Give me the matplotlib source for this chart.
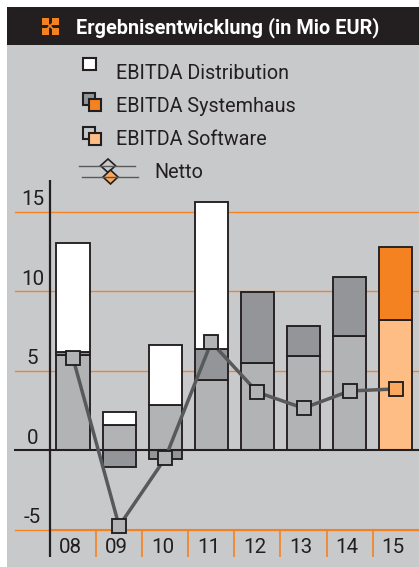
import matplotlib
matplotlib.use("Agg")
import matplotlib.pyplot as plt
from matplotlib.patches import Rectangle, Polygon

W, H = 419, 567
plt.rcParams["font.family"] = ["Roboto", "Liberation Sans", "DejaVu Sans"]

years = ["08", "09", "10", "11", "12", "13", "14", "15"]
software = [5.97, 1.57, 2.85, 4.4, 5.5, 5.95, 7.2, 8.2]
systemhaus = [0.2, -1.03, -0.55, 1.95, 4.47, 1.87, 3.68, 4.6]
distribution = [6.88, 0.83, 3.77, 9.28, 0, 0, 0, 0]
netto = [5.8, -4.76, -0.5, 6.8, 3.65, 2.65, 3.73, 3.86]
y_ticks = [15, 10, 5, 0, -5]
y_baselines = [205, 285, 364, 444, 523]

BG = "#c8c9cb"
DARK = "#231f20"
ORANGE = "#f58220"
LIGHT_ORANGE = "#fdbd85"
G1 = "#b2b3b5"
G2 = "#939598"
LINE = "#58595b"
MARK_O = "#fba85c"

fig = plt.figure(figsize=(W / 100, H / 100), dpi=100, facecolor="white")
bgax = fig.add_axes([0, 0, 1, 1])
bgax.set_xlim(0, W)
bgax.set_ylim(H, 0)
bgax.axis("off")
bgax.add_patch(Rectangle((7, 45), W - 7, H - 45, fc=BG, ec="none"))
bgax.add_patch(Rectangle((7, 7), W - 7, 38, fc=DARK, ec="none"))

# header icon
for (ix, iy) in [(42, 18), (52, 18), (42, 28), (52, 28)]:
    bgax.add_patch(Rectangle((ix, iy), 6.5, 6.5, fc=ORANGE, ec="none"))
bgax.plot([46, 54], [22, 30], color=ORANGE, lw=1.2)
bgax.plot([46, 54], [30, 22], color=ORANGE, lw=1.2)
bgax.text(76, 33, "Ergebnisentwicklung (in Mio EUR)", color="white", fontsize=14.35,
          fontweight="bold", va="baseline", ha="left")

# legend
def box(x, y, w, h, fc, lw=1.5):
    bgax.add_patch(Rectangle((x, y), w, h, fc=fc, ec=DARK, lw=lw))

box(83, 58, 12.5, 12, "white")
box(83, 93, 12, 12, G2)
box(89, 99, 12, 12, ORANGE)
box(83, 127, 12, 12, BG)
box(89, 133, 12, 12, LIGHT_ORANGE)
bgax.plot([79, 135], [166, 166], color=LINE, lw=1.0)
bgax.plot([82, 138], [176.7, 176.7], color=LINE, lw=1.0)
bgax.add_patch(Polygon([(108, 159), (115.5, 165.7), (108, 172.5), (100.5, 165.7)], fc=BG, ec=DARK, lw=1.2))
bgax.add_patch(Polygon([(110.5, 170), (118, 177), (110.5, 184), (103, 177)], fc=MARK_O, ec=DARK, lw=1.2))
for txt, x, y in [("EBITDA Distribution", 116, 79), ("EBITDA Systemhaus", 116, 111.7),
                  ("EBITDA Software", 116, 145), ("Netto", 154, 177.7)]:
    bgax.text(x, y, txt, color=DARK, fontsize=14.25, va="baseline", ha="left")

# chart axes, positioned to the pixel scale of the reference
L, R, T, B = 14, 419, 180, 557
ax = fig.add_axes([L / W, 1 - B / H, (R - L) / W, (B - T) / H])
ax.patch.set_alpha(0)
y0, ppu = 450.3, 15.9
x0, ppx = 73, 46.1
ax.set_xlim((L - x0) / ppx, (R - x0) / ppx)
ax.set_ylim((y0 - B) / ppu, (y0 - T) / ppu)
ax.axis("off")
px_x = lambda p: (p - x0) / ppx
px_y = lambda p: (y0 - p) / ppu

for v in [15, 10, 5, -5]:
    ax.axhline(v, xmin=1 / (R - L), color=ORANGE, lw=0.95, zorder=1)
ax.plot([px_x(50), px_x(R)], [-5, -5], color=ORANGE, lw=1.5, zorder=1)
ax.plot([px_x(50)] * 2, [px_y(180), px_y(557)], color=DARK, lw=1.6, zorder=2,
        solid_capstyle="butt")

bw = 0.72
for i in range(len(years)):
    sw, sy, d = software[i], systemhaus[i], distribution[i]
    hi = i == 7
    ax.bar(i, sw, bw, color=LIGHT_ORANGE if hi else G1, edgecolor=DARK, lw=1.35, zorder=3)
    base = sw if sy > 0 else 0
    ax.bar(i, sy, bw, bottom=base, color=ORANGE if hi else G2, edgecolor=DARK, lw=1.35, zorder=3)
    if d > 0:
        ax.bar(i, d, bw, bottom=sw + max(sy, 0), color="white", edgecolor=DARK, lw=1.35, zorder=3)

ax.axhline(0, color=DARK, lw=1.5, zorder=4)
ax.plot(range(8), netto, color=LINE, lw=2.5, zorder=5)
for i, v in enumerate(netto):
    ax.plot(i, v, marker="s", ms=9.6, mfc=MARK_O if i == 7 else G1, mec=DARK, mew=1.35, zorder=6)

for v, b in zip(y_ticks, y_baselines):
    ax.text(px_x(32.5), px_y(b), str(v), ha="center", va="baseline", fontsize=14.8, color=DARK)

# year tick separators and labels
for i, y in enumerate(years):
    ax.text(i - 0.055, px_y(552.7), y, ha="center", va="baseline", fontsize=14.8, color=DARK)
    if i < 7:
        ax.plot([i + 0.5] * 2, [-5, px_y(557)], color=ORANGE, lw=1.2, zorder=1)

fig.savefig("out.png", dpi=100, facecolor="white")
